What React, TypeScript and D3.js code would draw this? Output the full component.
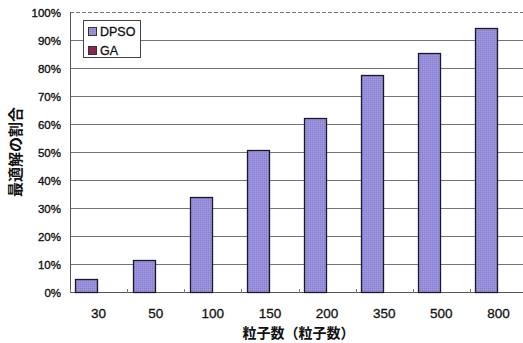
import React from "react";
import * as d3 from "d3";

// Particle counts on the x axis
const categories: string[] = ["30", "50", "100", "150", "200", "350", "500", "800"];
// Share of runs reaching the optimum, per method
const dpsoValues: number[] = [0.045, 0.114, 0.34, 0.506, 0.621, 0.775, 0.855, 0.944];
const gaValues: number[] = [0, 0, 0, 0, 0, 0, 0, 0];
const seriesNames: string[] = ["DPSO", "GA"];
const yTicks: number[] = [0, 0.1, 0.2, 0.3, 0.4, 0.5, 0.6, 0.7, 0.8, 0.9, 1.0];

const W = 523;
const H = 343;
const plotLeft = 70;
const plotRight = 527;
const plotTop = 12;
const plotBottom = 292;

const latin = "'Liberation Sans', Arial, sans-serif";
const cjk = "'Noto Sans CJK JP', 'Noto Sans', sans-serif";

export default function App() {
  const x0 = d3
    .scaleBand<string>()
    .domain(categories)
    .range([plotLeft, plotRight])
    .paddingInner(0.19)
    .paddingOuter(0.095);
  const x1 = d3.scaleBand<string>().domain(seriesNames).range([0, x0.bandwidth()]).padding(0);
  const y = d3.scaleLinear().domain([0, 1]).range([plotBottom, plotTop]);

  const series = [
    { name: "DPSO", values: dpsoValues, fill: "url(#dpsoFill)" },
    { name: "GA", values: gaValues, fill: "#8e2450" },
  ];

  const step = x0.step();
  const tickXs = d3.range(categories.length + 1).map((i) => plotLeft + i * step);

  return (
    <svg width={W} height={H} style={{ position: "absolute", left: 0, top: 0, background: "#fff" }}>
      <defs>
        <pattern id="dpsoFill" width="2" height="2" patternUnits="userSpaceOnUse">
          <rect width="2" height="2" fill="#968ed9" />
          <rect width="1" height="1" fill="#8a82cf" />
          <rect x="1" y="1" width="1" height="1" fill="#a199e0" />
        </pattern>
      </defs>
      <rect width={W} height={H} fill="#fff" />

      {/* horizontal gridlines */}
      {yTicks.map((t) => (
        <line
          key={"g" + t}
          x1={plotLeft}
          x2={W}
          y1={Math.round(y(t)) + 0.5}
          y2={Math.round(y(t)) + 0.5}
          stroke={t === 0 ? "#555" : "#747474"}
          strokeWidth={1}
          strokeDasharray={t === 1 ? "4,2" : undefined}
        />
      ))}

      {/* y axis line */}
      <line x1={plotLeft + 0.5} x2={plotLeft + 0.5} y1={plotTop} y2={plotBottom + 1} stroke="#555" />

      {/* category ticks on the x axis */}
      {tickXs.map((tx, i) => (
        <line
          key={"t" + i}
          x1={Math.round(tx) + 0.5}
          x2={Math.round(tx) + 0.5}
          y1={plotBottom - 3}
          y2={plotBottom + 1}
          stroke="#777"
        />
      ))}

      {/* bars */}
      {series.map((s) =>
        categories.map((c, i) => {
          const v = s.values[i];
          if (v <= 0) return null;
          const bx = (x0(c) as number) + (x1(s.name) as number);
          const by = y(v);
          return (
            <rect
              key={s.name + c}
              x={Math.round(bx) + 0.5}
              y={Math.round(by) + 0.5}
              width={Math.round(x1.bandwidth()) - 1}
              height={Math.round(plotBottom - by)}
              fill={s.fill}
              stroke="#1a1a26"
              strokeWidth={1.3}
            />
          );
        })
      )}

      {/* y tick labels */}
      {yTicks.map((t) => (
        <text
          key={"yl" + t}
          x={61}
          y={y(t) + 2}
          textAnchor="end"
          dominantBaseline="middle"
          fontFamily={latin}
          fontSize={11.5}
          fill="#111"
          stroke="#111"
          strokeWidth={0.35}
        >
          {Math.round(t * 100) + "%"}
        </text>
      ))}

      {/* x tick labels */}
      {categories.map((c) => (
        <text
          key={"xl" + c}
          x={(x0(c) as number) + x0.bandwidth() / 2}
          y={318}
          textAnchor="middle"
          fontFamily={latin}
          fontSize={13.5}
          fill="#111"
          stroke="#111"
          strokeWidth={0.3}
        >
          {c}
        </text>
      ))}

      {/* axis titles */}
      <text
        x={(plotLeft + plotRight) / 2}
        y={338}
        textAnchor="middle"
        fontFamily={cjk}
        fontWeight="bold"
        fontSize={14}
        fill="#111"
      >
        粒子数（粒子数）
      </text>
      <text
        transform={`translate(21, 152) rotate(-90)`}
        textAnchor="middle"
        fontFamily={cjk}
        fontWeight="bold"
        fontSize={15}
        fill="#111"
      >
        最適解の割合
      </text>

      {/* legend */}
      <g>
        <rect x={83.5} y={20.5} width={57} height={37} fill="#fff" stroke="#444" />
        {series.map((s, i) => (
          <g key={"lg" + s.name} transform={`translate(88, ${27 + i * 19})`}>
            <rect x={0.5} y={0.5} width={8} height={8} fill={s.fill} stroke="#333" />
            <text
              x={12}
              y={9}
              fontFamily={latin}
              fontSize={12.5}
              fill="#111"
              stroke="#111"
              strokeWidth={0.3}
            >
              {s.name}
            </text>
          </g>
        ))}
      </g>
    </svg>
  );
}
